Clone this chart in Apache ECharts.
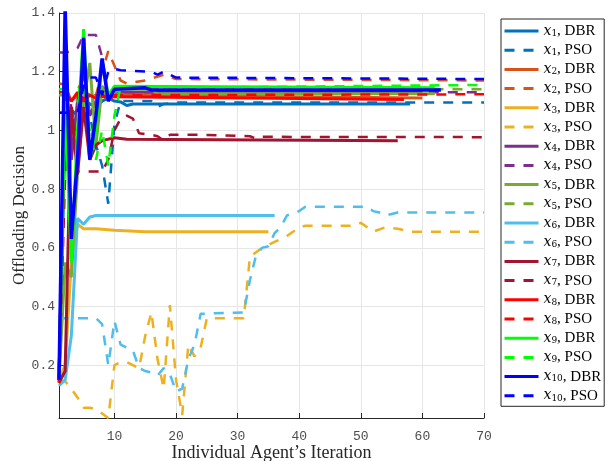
<!DOCTYPE html>
<html>
<head>
<meta charset="utf-8">
<script src="https://cdn.jsdelivr.net/npm/echarts@6/dist/echarts.min.js"></script>
<style>
  html, body { margin: 0; padding: 0; background: #fff; }
  #chart { width: 609px; height: 461px; }
</style>
</head>
<body>
<div id="chart"></div>
<script>
// agent colours (MATLAB palette + pure red/green/blue)
const agentColors = ['#0072BD', '#D95319', '#EDB120', '#7E2F8E', '#77AC30',
  '#4DBEEE', '#A2142F', '#FF0000', '#00FF00', '#0000FF'];

// DBR curves: [iteration, offloading decision]
const dbr1 = [[1,0.15],[2,1.0],[3,1.07],[4,1.05],[5,1.1],[6,1.09],[7,1.08],[8,1.1],[9,1.11],[10,1.1],[11,1.097],[12,1.085],[13,1.09],[58,1.09]];
const dbr2 = [[1,0.15],[2,1.15],[3,1.1],[4,1.12],[5,1.13],[6,1.12],[7,1.11],[8,1.12],[9,1.11],[10,1.12],[60,1.11]];
const dbr3 = [[1,0.15],[2,0.2],[3,0.55],[4,0.68],[5,0.665],[7,0.665],[10,0.66],[15,0.655],[35,0.655]];
const dbr4 = [[1,0.15],[2,1.2],[3,0.9],[4,1.1],[5,1.2],[6,1.05],[7,1.1],[8,1.15],[9,1.12],[10,1.13],[60,1.13]];
const dbr5 = [[1,0.15],[2,0.55],[3,0.5],[4,0.85],[5,1.1],[6,1.23],[7,0.95],[8,1.15],[9,1.1],[10,1.13],[11,1.14],[16,1.14],[17,1.125],[62,1.125]];
const dbr6 = [[1,0.13],[2,0.15],[3,0.3],[4,0.7],[5,0.68],[6,0.705],[7,0.71],[36,0.71]];
const dbr7 = [[1,0.14],[2,0.18],[3,1.08],[4,0.85],[5,1.08],[6,0.9],[7,0.95],[8,0.965],[10,0.975],[12,0.97],[56,0.965]];
const dbr8 = [[1,0.14],[2,1.13],[3,1.1],[4,1.13],[5,1.1],[6,1.12],[7,1.11],[8,1.12],[9,1.11],[10,1.115],[57,1.105]];
const dbr9 = [[1,0.15],[2,1.1],[3,0.55],[4,1.0],[5,1.345],[6,0.9],[7,1.0],[8,1.24],[9,1.12],[10,1.15],[11,1.15],[62,1.145]];
const dbr10 = [[1,0.15],[2,1.42],[3,0.63],[4,0.9],[5,1.315],[6,0.9],[7,1.05],[8,1.245],[9,1.1],[10,1.14],[15,1.145],[16,1.138],[63,1.138]];

// PSO curves: [iteration, offloading decision]
const pso1 = [[1,1.06],[5,1.06],[6,1.05],[7,0.95],[8,0.88],[9,0.75],[10,1.02],[11,1.1],[16,1.1],[17,1.08],[18,1.09],[20,1.095],[70,1.095]];
const pso2 = [[1,1.16],[4,1.15],[6,1.14],[7,1.12],[8,1.2],[9,1.27],[10,1.22],[11,1.17],[12,1.16],[15,1.17],[18,1.19],[20,1.175],[70,1.17]];
const pso3 = [[1,0.15],[2,0.145],[3,0.12],[4,0.09],[5,0.055],[6,0.055],[7,0.05],[8,0.035],[9,0.02],[10,0.2],[11,0.21],[12,0.21],[13,0.2],[14,0.19],[15,0.3],[16,0.38],[17,0.22],[18,0.12],[19,0.405],[20,0.15],[21,0.03],[22,0.27],[23,0.23],[24,0.26],[25,0.36],[31,0.36],[32,0.57],[34,0.6],[36,0.62],[38,0.64],[40,0.67],[41,0.675],[49,0.675],[50,0.685],[52,0.655],[54,0.67],[56,0.665],[58,0.655],[70,0.655]];
const pso4 = [[1,1.265],[2,1.265],[3,1.27],[4,1.28],[5,1.325],[7,1.325],[8,1.25],[9,1.1],[10,1.12],[11,1.13],[70,1.13]];
const pso5 = [[1,1.12],[3,1.12],[4,1.1],[5,1.05],[6,0.95],[7,1.05],[8,1.15],[9,1.1],[10,1.14],[12,1.145],[70,1.14]];
const pso6 = [[1,0.36],[7,0.36],[8,0.34],[9,0.2],[10,0.35],[11,0.27],[12,0.26],[13,0.25],[14,0.19],[15,0.18],[16,0.175],[17,0.165],[18,0.19],[19,0.17],[20,0.11],[21,0.12],[22,0.22],[23,0.27],[24,0.375],[31,0.38],[32,0.49],[33,0.575],[34,0.6],[35,0.605],[36,0.65],[37,0.67],[38,0.71],[40,0.725],[41,0.74],[51,0.74],[52,0.725],[53,0.72],[54,0.71],[56,0.72],[70,0.72]];
const pso7 = [[1,0.15],[2,0.85],[3,1.1],[4,0.86],[8,0.86],[9,0.9],[10,1.0],[11,1.04],[12,1.05],[13,1.04],[14,0.99],[16,0.985],[17,0.98],[18,0.965],[19,0.985],[24,0.985],[32,0.98],[33,0.972],[34,0.978],[70,0.977]];
const pso8 = [[1,1.13],[3,1.13],[4,1.12],[5,1.11],[7,1.12],[9,1.11],[10,1.12],[70,1.123]];
const pso9 = [[1,1.14],[5,1.14],[6,1.0],[7,0.9],[8,1.0],[9,0.88],[10,1.05],[11,1.15],[16,1.145],[70,1.155]];
const pso10 = [[1,1.06],[4,1.06],[5,1.15],[6,1.18],[7,1.18],[8,1.12],[9,1.2],[10,1.21],[11,1.205],[16,1.2],[17,1.19],[18,1.2],[20,1.18],[70,1.175]];

const dbrData = [dbr1, dbr2, dbr3, dbr4, dbr5, dbr6, dbr7, dbr8, dbr9, dbr10];
const psoData = [pso1, pso2, pso3, pso4, pso5, pso6, pso7, pso8, pso9, pso10];

const chart = echarts.init(document.getElementById('chart'), null, { renderer: 'canvas' });

const series = [];
for (let i = 0; i < 10; i++) {
  series.push({
    name: 'x' + (i + 1) + ', DBR',
    type: 'line',
    data: dbrData[i],
    symbol: 'none',
    lineStyle: { color: agentColors[i], width: i === 9 ? 3.5 : 3, type: 'solid' },
    itemStyle: { color: agentColors[i] }
  });
  series.push({
    name: 'x' + (i + 1) + ', PSO',
    type: 'line',
    data: psoData[i],
    symbol: 'none',
    lineStyle: { color: agentColors[i], width: 2.5, type: [10, 9] },
    itemStyle: { color: agentColors[i] }
  });
}

const tickFont = { fontFamily: 'Liberation Mono', fontSize: 13, color: '#4d4d4d' };

chart.setOption({
  animation: false,
  backgroundColor: '#fff',
  grid: { left: 59, right: 125, top: 13, bottom: 43, containLabel: false, outerBoundsMode: 'none' },
  xAxis: {
    type: 'value',
    min: 1,
    max: 70,
    splitNumber: 7,
    name: 'Individual Agent\u2019s Iteration',
    nameLocation: 'middle',
    nameGap: 26,
    nameMoveOverlap: false,
    nameTextStyle: { fontFamily: 'Liberation Serif', fontSize: 18, color: '#262626' },
    axisLine: { onZero: false, lineStyle: { color: '#262626', width: 1 } },
    axisTick: { inside: true, length: 5, lineStyle: { color: '#262626' } },
    axisLabel: Object.assign({
      margin: 12,
      formatter: v => (v % 10 === 0 ? String(v) : '')
    }, tickFont),
    splitLine: { show: true, lineStyle: { color: '#e6e6e6', width: 1 } }
  },
  yAxis: {
    type: 'value',
    min: 0.02,
    max: 1.4,
    splitNumber: 7,
    name: 'Offloading Decision',
    nameLocation: 'middle',
    nameGap: 31,
    nameMoveOverlap: false,
    nameTextStyle: { fontFamily: 'Liberation Serif', fontSize: 17, color: '#262626' },
    axisLine: { lineStyle: { color: '#262626', width: 1 } },
    axisTick: { inside: true, length: 5, lineStyle: { color: '#262626' } },
    axisLabel: Object.assign({
      margin: 4,
      formatter: v => {
        const r = Math.round(v * 5) / 5;
        if (Math.abs(v - r) > 1e-6 || r === 0) return '';
        return String(parseFloat(r.toFixed(1)));
      }
    }, tickFont),
    splitLine: { show: true, lineStyle: { color: '#e6e6e6', width: 1 } }
  },
  legend: {
    orient: 'vertical',
    left: 501,
    top: 19,
    padding: [4, 3, 3, 2],
    itemGap: 3.7,
    itemWidth: 34,
    itemHeight: 10,
    selectedMode: false,
    borderColor: '#262626',
    borderWidth: 1,
    backgroundColor: '#fff',
    itemStyle: { opacity: 0 },
    lineStyle: { width: 3 },
    data: series.map(s => s.name),
    formatter: name => {
      const m = name.match(/^x(\d+), (\w+)$/);
      return '{i|x}{s|' + m[1] + '}{t|, ' + m[2] + '}';
    },
    textStyle: {
      lineHeight: 14,
      rich: {
        i: { fontFamily: 'DejaVu Serif', fontStyle: 'italic', fontSize: 14, color: '#000', lineHeight: 14 },
        s: { fontFamily: 'DejaVu Serif', fontSize: 9, color: '#000', lineHeight: 14, verticalAlign: 'bottom', padding: [6, 0, 0, 0] },
        t: { fontFamily: 'Liberation Serif', fontSize: 15, color: '#000', lineHeight: 14 }
      }
    }
  },
  series: series
});
</script>
</body>
</html>
